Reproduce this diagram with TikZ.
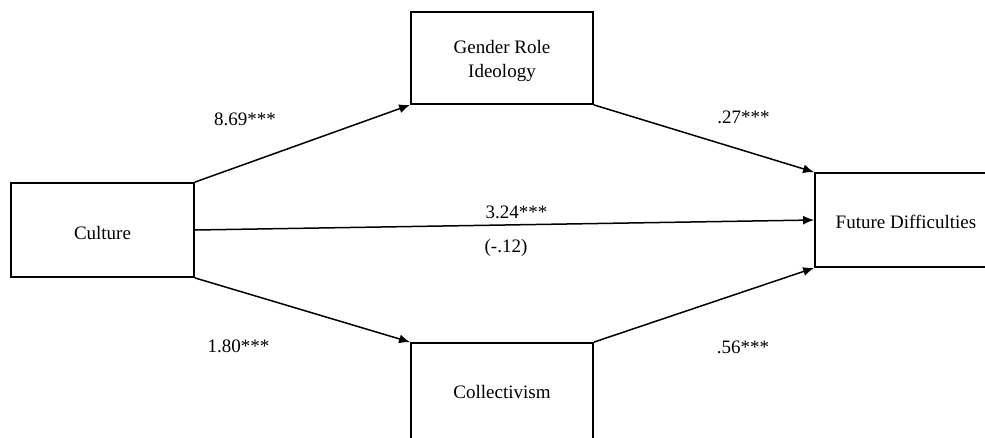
\documentclass[tikz,border=0pt]{standalone}
\usepackage{fontspec}
\setmainfont{Liberation Serif}
\usetikzlibrary{arrows.meta}
\begin{document}
\begin{tikzpicture}[x=1pt,y=-1pt,
  box/.style={draw, line width=1.8pt, rectangle, inner sep=0pt, align=center,
    font=\fontsize{19}{24}\selectfont},
  path/.style={line width=1.5pt, -{Latex[length=11pt,width=9pt]}},
  lab/.style={font=\fontsize{19}{24}\selectfont, inner sep=0pt, align=center}]
\useasboundingbox (0,0) rectangle (985,437);
\clip (0,0) rectangle (985,437);
\node[box, minimum width=183pt, minimum height=94pt] (cul) at (102.5,230) {};
\node[lab] (cult) at (102.5,233) {Culture};
\node[box, minimum width=182pt, minimum height=92pt] (gen) at (502,58) {};
\node[lab] (gent) at (502,61) {Gender Role\\Ideology};
\node[box, minimum width=182pt, minimum height=100pt] (col) at (502,393) {};
\node[lab] (colt) at (502,392) {Collectivism};
\node[box, minimum width=180pt, minimum height=94pt] (fut) at (905,220) {};
\node[lab] (futt) at (906,222) {Future Difficulties};
\draw[path] (cul.north east) -- (gen.south west);
\draw[path] (cul.east) -- (fut.west);
\draw[path] (cul.south east) -- (col.north west);
\draw[path] (gen.south east) -- (fut.north west);
\draw[path] (col.north east) -- (fut.south west);
\node[lab] (l1) at (245,119) {8.69***};
\node[lab] (l2) at (743.5,117) {.27***};
\node[lab] (l3) at (516.5,212) {3.24***};
\node[lab] (l4) at (506,248) {(-.12)};
\node[lab] (l5) at (238.5,346) {1.80***};
\node[lab] (l6) at (743,347) {.56***};
\end{tikzpicture}
\end{document}
